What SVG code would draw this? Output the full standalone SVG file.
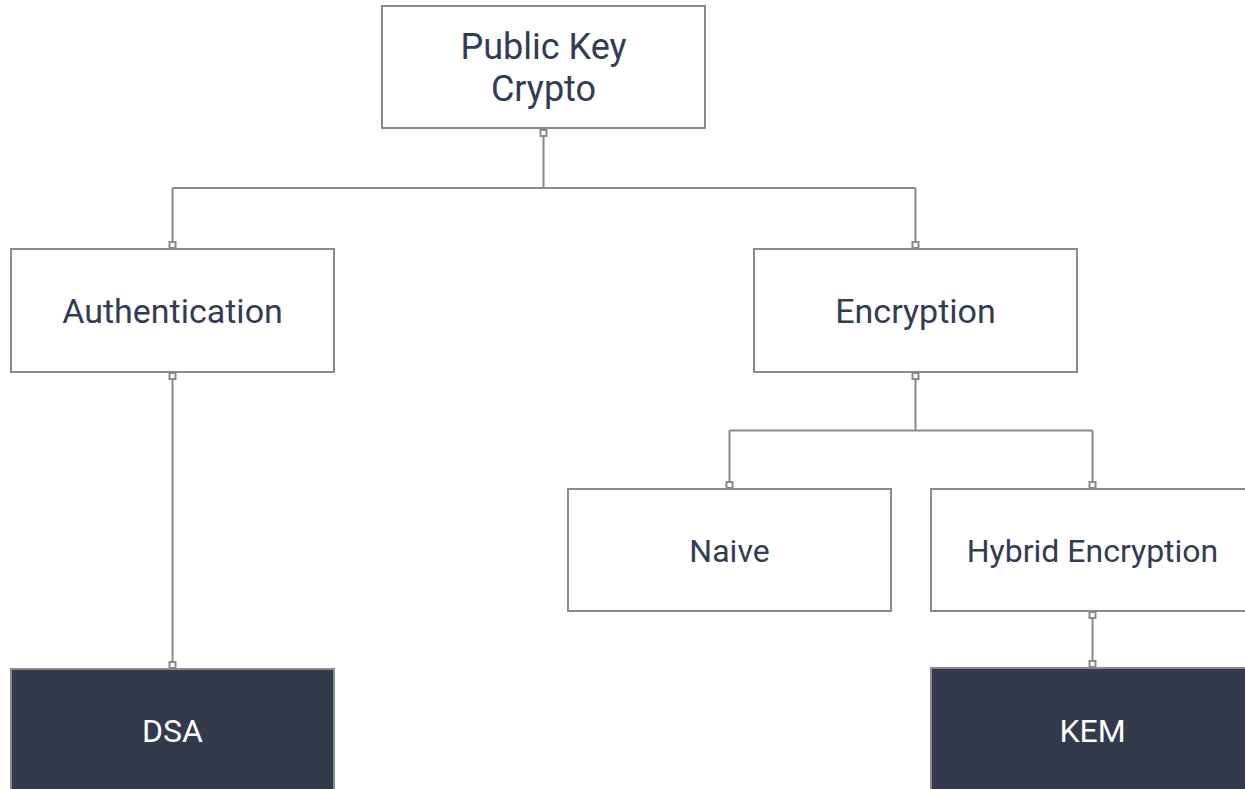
<svg xmlns="http://www.w3.org/2000/svg" width="1245" height="789" viewBox="0 0 1245 789">
  <style>
    .box { fill: #ffffff; stroke: #8a8a8a; stroke-width: 2; }
    .dark { fill: #323a4c; stroke: #8a8a8a; stroke-width: 2; }
    .lbl { font-family: Roboto, "Liberation Sans", sans-serif; fill: #323c52; text-anchor: middle; }
    .lbl-light { font-family: Roboto, "Liberation Sans", sans-serif; fill: #ffffff; text-anchor: middle; }
    .wire { fill: none; stroke: #8a8a8a; stroke-width: 2; }
    .port { fill: #ffffff; stroke: #8a8a8a; stroke-width: 2; }
  </style>
  <rect width="1245" height="789" fill="#ffffff"/>

  <!-- connectors -->
  <g id="connectors">
    <path class="wire" d="M543.5 136 V188 M172.5 188 H915.5 M172.5 188 V242 M915.5 188 V242"/>
    <path class="wire" d="M172.5 379 V662"/>
    <path class="wire" d="M915.5 379 V430.5 M729.5 430.5 H1092.5 M729.5 430.5 V482 M1092.5 430.5 V482"/>
    <path class="wire" d="M1092.5 618 V661"/>
    <!-- port squares -->
    <rect class="port" x="540.5" y="130" width="6" height="6"/>
    <rect class="port" x="169.5" y="242" width="6" height="6"/>
    <rect class="port" x="912.5" y="242" width="6" height="6"/>
    <rect class="port" x="169.5" y="373" width="6" height="6"/>
    <rect class="port" x="169.5" y="662" width="6" height="6"/>
    <rect class="port" x="912.5" y="373" width="6" height="6"/>
    <rect class="port" x="726.5" y="482" width="6" height="6"/>
    <rect class="port" x="1089.5" y="482" width="6" height="6"/>
    <rect class="port" x="1089.5" y="612" width="6" height="6"/>
    <rect class="port" x="1089.5" y="661" width="6" height="6"/>
  </g>

  <g id="public-key-crypto">
    <rect class="box" x="382" y="6" width="323" height="122"/>
    <text class="lbl" x="543.5" y="59" font-size="36">Public Key</text>
    <text class="lbl" x="543.5" y="101" font-size="36">Crypto</text>
  </g>

  <g id="authentication">
    <rect class="box" x="11" y="249" width="323" height="123"/>
    <text class="lbl" x="172.5" y="323" font-size="34">Authentication</text>
  </g>

  <g id="encryption">
    <rect class="box" x="754" y="249" width="323" height="123"/>
    <text class="lbl" x="915.5" y="323" font-size="34">Encryption</text>
  </g>

  <g id="naive">
    <rect class="box" x="568" y="489" width="323" height="122"/>
    <text class="lbl" x="729.5" y="562" font-size="32">Naive</text>
  </g>

  <g id="hybrid-encryption">
    <rect class="box" x="931" y="489" width="323" height="122"/>
    <text class="lbl" x="1092.5" y="562" font-size="32">Hybrid Encryption</text>
  </g>

  <g id="dsa">
    <rect class="dark" x="11" y="669" width="323" height="123"/>
    <text class="lbl-light" x="172.5" y="742" font-size="32">DSA</text>
  </g>

  <g id="kem">
    <rect class="dark" x="931" y="668" width="323" height="123"/>
    <text class="lbl-light" x="1092.5" y="742" font-size="32">KEM</text>
  </g>
</svg>
